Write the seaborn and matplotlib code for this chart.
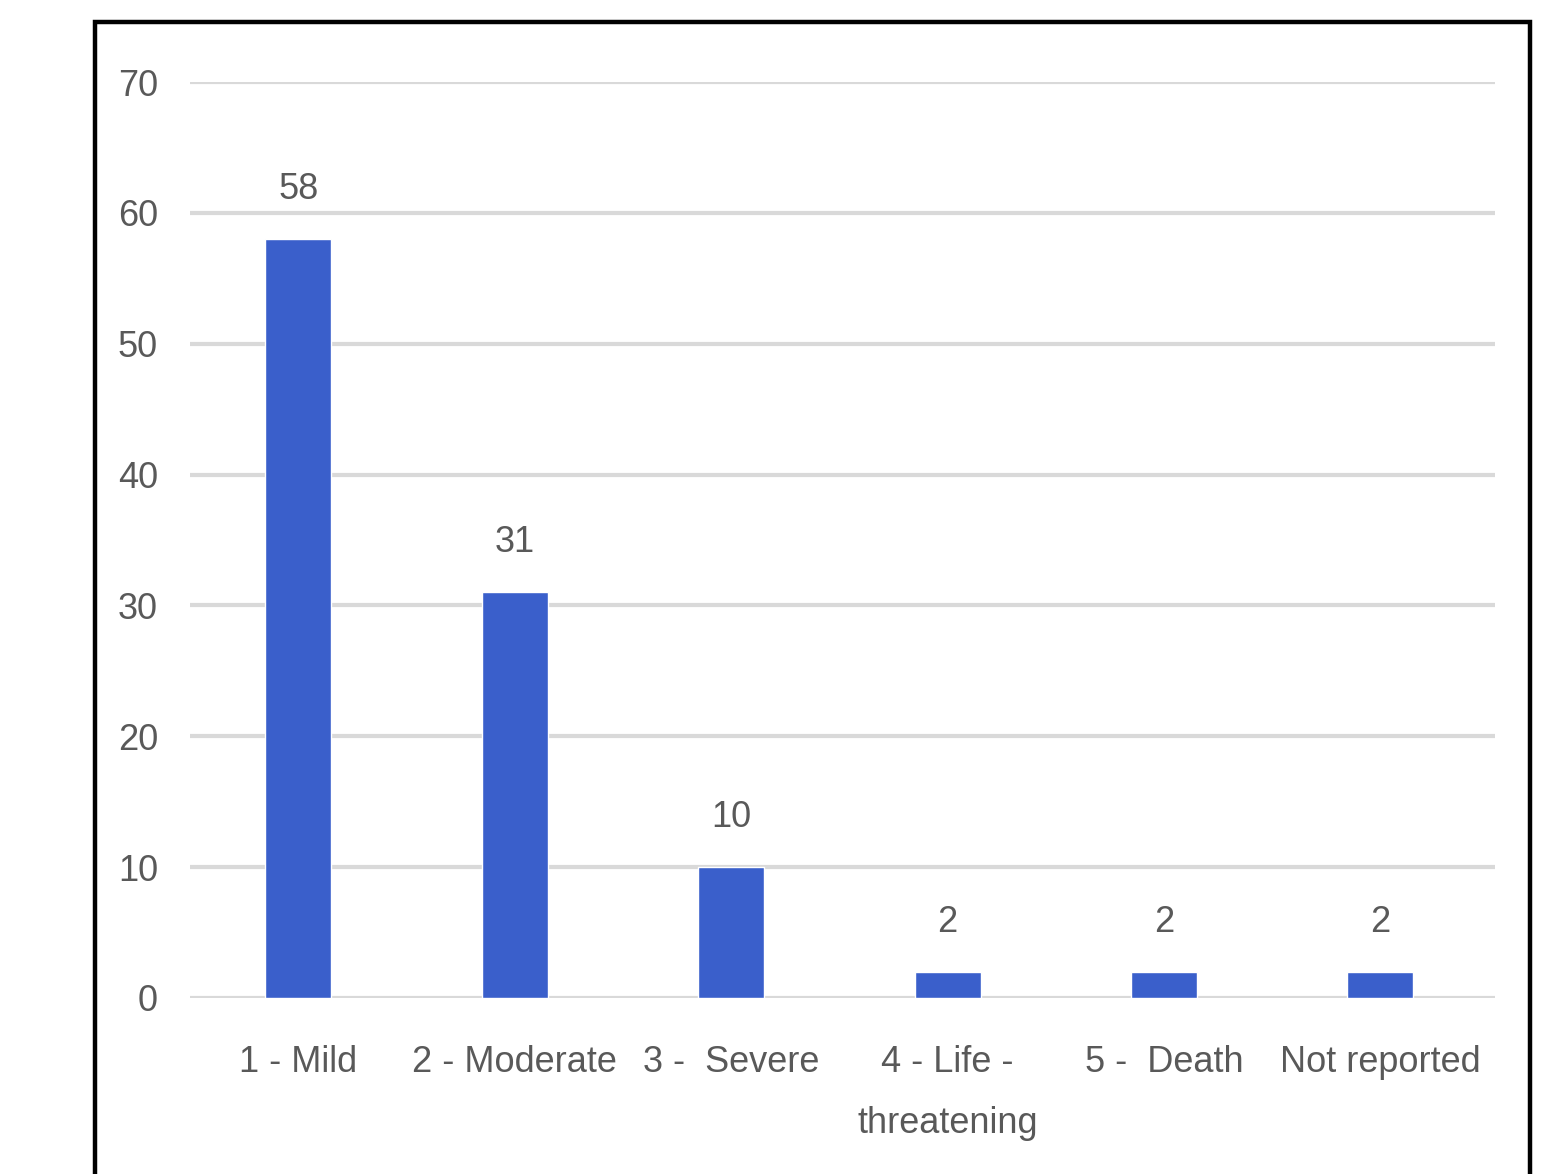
import matplotlib
matplotlib.use("Agg")
import matplotlib.pyplot as plt
from matplotlib.patches import Rectangle
import seaborn as sns
import pandas as pd

categories = ["1 - Mild", "2 - Moderate", "3 -  Severe", "4 - Life -\nthreatening", "5 -  Death", "Not reported"]
counts = [58, 31, 10, 2, 2, 2]
y_ticks = [0, 10, 20, 30, 40, 50, 60, 70]

sns.set_theme(style="white")
plt.rcParams["font.family"] = ["Liberation Sans Narrow", "Liberation Sans", "DejaVu Sans"]

text_color = "#595959"
bar_color = "#3A5FCB"
grid_color = "#D9D9D9"
font_size = 26

df = pd.DataFrame({"grade": categories, "count": counts})

fig = plt.figure(figsize=(15.51, 11.74), dpi=100)
ax = fig.add_axes([0.1225, 0.150, 0.8415, 0.780])

sns.barplot(data=df, x="grade", y="count", color=bar_color, width=0.305,
            saturation=1, ax=ax, zorder=3)

ax.set_ylim(0, 70)
ax.set_xlim(-0.5, 5.53)
ax.set_yticks(y_ticks)
ax.yaxis.grid(True, color=grid_color, linewidth=3, zorder=0)
ax.set_axisbelow(True)
for s in ax.spines.values():
    s.set_visible(False)
ax.set_xlabel("")
ax.set_ylabel("")
ax.tick_params(axis="both", length=0, labelsize=font_size, labelcolor=text_color)
ax.tick_params(axis="y", pad=23)
ax.tick_params(axis="x", pad=34)
for lbl in ax.get_xticklabels():
    lbl.set_linespacing(1.95)
    lbl.set_verticalalignment("top")

for i, v in enumerate(counts):
    ax.annotate(str(v), (i, v), xytext=(0, 23), textcoords="offset points",
                ha="center", va="bottom", fontsize=font_size, color=text_color)

# outer frame around the chart
fig.patches.append(Rectangle((0.0615, -0.02), 0.925, 1.0015, transform=fig.transFigure,
                             fill=False, edgecolor="black", linewidth=3.2))

fig.savefig("out.png", dpi=100, facecolor="white")
